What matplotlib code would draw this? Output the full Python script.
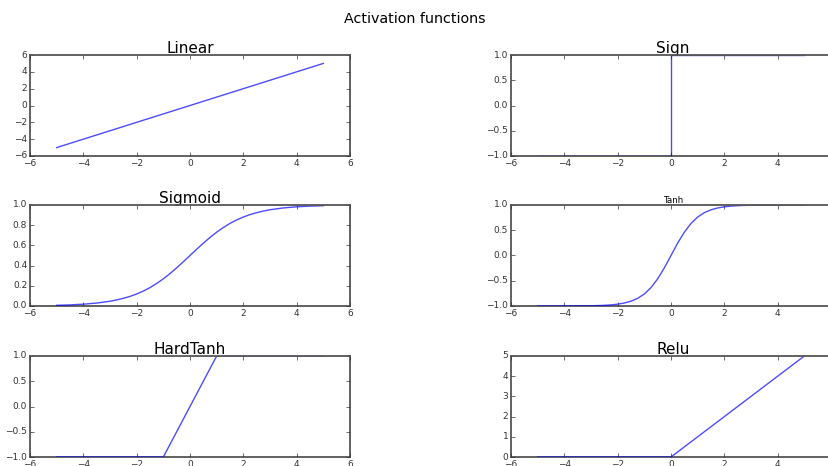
import matplotlib
matplotlib.use("Agg")
import matplotlib.pyplot as plt

plt.style.use("classic")

# ---- data ----
linear_x = [-5, 5]
linear_y = [-5, 5]

sign_x = [-5, 0, 0, 5]
sign_y = [-1, -1, 1, 1]

sig_x = [-5, -4.5, -4, -3.5, -3, -2.75, -2.5, -2.25, -2, -1.75, -1.5, -1.25, -1, -0.75, -0.5, -0.25,
         0, 0.25, 0.5, 0.75, 1, 1.25, 1.5, 1.75, 2, 2.25, 2.5, 2.75, 3, 3.5, 4, 4.5, 5]
sig_y = [0.007, 0.011, 0.018, 0.029, 0.047, 0.060, 0.076, 0.095, 0.119, 0.148, 0.182, 0.223, 0.269, 0.321, 0.378, 0.438,
         0.5, 0.562, 0.622, 0.679, 0.731, 0.777, 0.818, 0.852, 0.881, 0.905, 0.924, 0.940, 0.953, 0.971, 0.982, 0.989, 0.993]

tanh_x = [-5, -4.5, -4, -3.5, -3, -2.75, -2.5, -2.25, -2, -1.75, -1.5, -1.25, -1, -0.75, -0.5, -0.25,
          0, 0.25, 0.5, 0.75, 1, 1.25, 1.5, 1.75, 2, 2.25, 2.5, 2.75, 3, 3.5, 4, 4.5, 5]
tanh_y = [-1.0, -1.0, -0.999, -0.998, -0.995, -0.992, -0.987, -0.978, -0.964, -0.941, -0.905, -0.848, -0.762, -0.635, -0.462, -0.245,
          0, 0.245, 0.462, 0.635, 0.762, 0.848, 0.905, 0.941, 0.964, 0.978, 0.987, 0.992, 0.995, 0.998, 0.999, 1.0, 1.0]

hard_x = [-5, -1, 1, 5]
hard_y = [-1, -1, 1, 1]

relu_x = [-5, 0, 5]
relu_y = [0, 0, 5]

titles = ["Linear", "Sign", "Sigmoid", "Tanh", "HardTanh", "Relu"]
title_sizes = [11, 11, 11, 6.3, 11, 11]
series = [(linear_x, linear_y), (sign_x, sign_y), (sig_x, sig_y),
          (tanh_x, tanh_y), (hard_x, hard_y), (relu_x, relu_y)]
ylims = [(-6, 6), (-1, 1), (0, 1), (-1, 1), (-1, 1), (0, 5)]

W, H = 829, 466
fig = plt.figure(figsize=(W / 100, H / 100), dpi=100, facecolor="white")

col_left = [30, 511]
ax_w = 320
row_tops = [55, 205, 356]
ax_h = 101

for i, (name, (xs, ys)) in enumerate(zip(titles, series)):
    r, c = divmod(i, 2)
    left = col_left[c] / W
    bottom = 1 - (row_tops[r] + ax_h) / H
    w = ax_w if c == 0 else ax_w + 4
    ax = fig.add_axes([left, bottom, w / W, ax_h / H])
    ax.set_facecolor("white")
    ax.plot(xs, ys, color="b", lw=1.0, alpha=0.7, zorder=3)
    ax.set_xlim(-6, 6 if c == 0 else 6.15)
    ax.set_xticks([-6, -4, -2, 0, 2, 4, 6] if c == 0 else [-6, -4, -2, 0, 2, 4])
    ax.set_ylim(*ylims[i])
    ax.set_title(name, fontsize=title_sizes[i], pad=1.5)
    ax.tick_params(labelsize=6.5, length=3, pad=2, colors="#333333", labelcolor="#333333")
    for key, s in ax.spines.items():
        s.set_color("#555555")
        s.set_linewidth(1.3)
        s.set_zorder(4 if key == "top" else 2.5)

fig.suptitle("Activation functions", fontsize=10.3, y=1 - 19 / H, va="center")

fig.savefig("out.png", dpi=100, facecolor="white")
